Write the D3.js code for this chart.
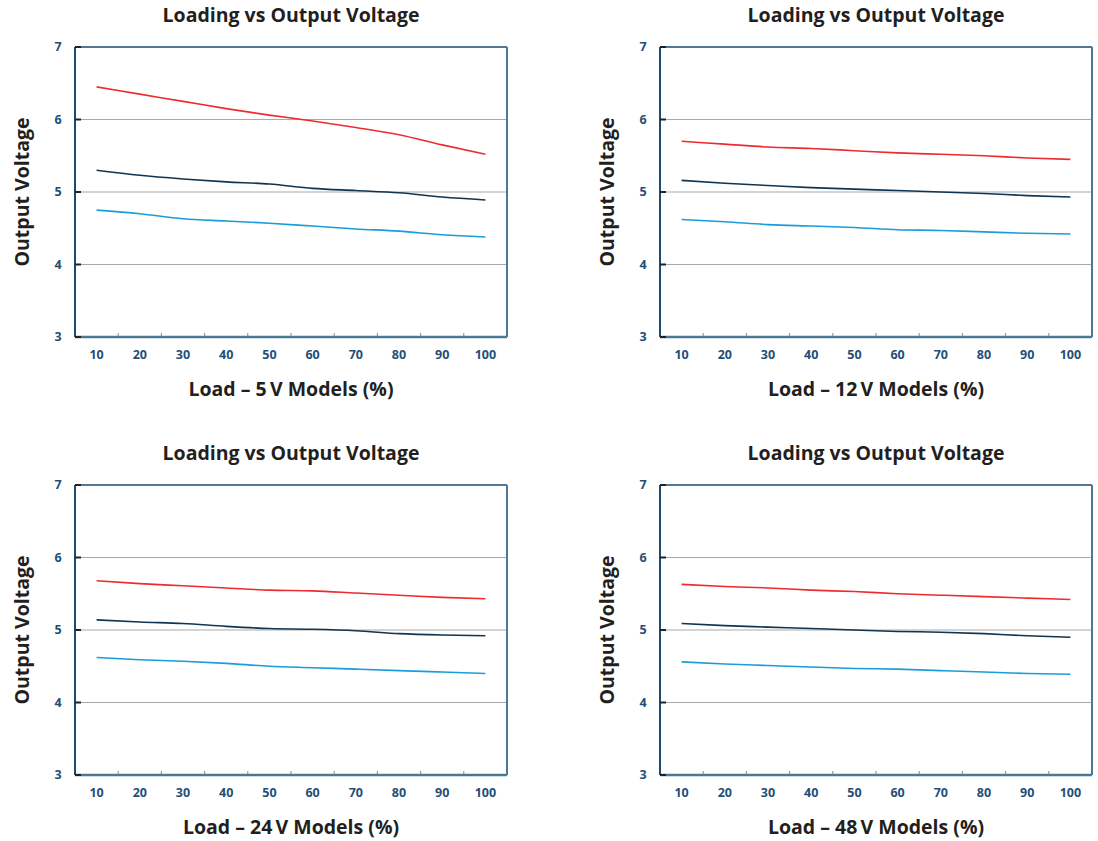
<!DOCTYPE html>
<html>
<head>
<meta charset="utf-8">
<script src="https://cdn.jsdelivr.net/npm/d3@7"></script>
<style>
  body { margin: 0; background: #fff; }
  svg text { font-family: "Open Sans", "Noto Sans", sans-serif; font-weight: 700; }
</style>
</head>
<body>
<div id="chart"></div>
<script>
var width = 1098, height = 841;

// x categories (load %)
var loads = [10, 20, 30, 40, 50, 60, 70, 80, 90, 100];
var yTicks = [3, 4, 5, 6, 7];
var chartTitle = "Loading vs Output Voltage";
var yTitle = "Output Voltage";
var xTitles = ["Load \u2013 5\u2009V Models (%)", "Load \u2013 12\u2009V Models (%)",
               "Load \u2013 24\u2009V Models (%)", "Load \u2013 48\u2009V Models (%)"];

// 5 V models
var high5 = [6.45, 6.35, 6.25, 6.15, 6.06, 5.98, 5.89, 5.79, 5.65, 5.52];
var nom5  = [5.30, 5.23, 5.18, 5.14, 5.11, 5.05, 5.02, 4.99, 4.93, 4.89];
var low5  = [4.75, 4.70, 4.63, 4.60, 4.57, 4.53, 4.49, 4.46, 4.41, 4.38];
// 12 V models
var high12 = [5.70, 5.66, 5.62, 5.60, 5.57, 5.54, 5.52, 5.50, 5.47, 5.45];
var nom12  = [5.16, 5.12, 5.09, 5.06, 5.04, 5.02, 5.00, 4.98, 4.95, 4.93];
var low12  = [4.62, 4.59, 4.55, 4.53, 4.51, 4.48, 4.47, 4.45, 4.43, 4.42];
// 24 V models
var high24 = [5.68, 5.64, 5.61, 5.58, 5.55, 5.54, 5.51, 5.48, 5.45, 5.43];
var nom24  = [5.14, 5.11, 5.09, 5.05, 5.02, 5.01, 4.99, 4.95, 4.93, 4.92];
var low24  = [4.62, 4.59, 4.57, 4.54, 4.50, 4.48, 4.46, 4.44, 4.42, 4.40];
// 48 V models
var high48 = [5.63, 5.60, 5.58, 5.55, 5.53, 5.50, 5.48, 5.46, 5.44, 5.42];
var nom48  = [5.09, 5.06, 5.04, 5.02, 5.00, 4.98, 4.97, 4.95, 4.92, 4.90];
var low48  = [4.56, 4.53, 4.51, 4.49, 4.47, 4.46, 4.44, 4.42, 4.40, 4.39];

var lineColors = ["#ee2b2f", "#0f3552", "#1a9ddb"];

var panels = [
    {x: 75,  y: 47,  xTitle: xTitles[0], series: [high5, nom5, low5]},
    {x: 660, y: 47,  xTitle: xTitles[1], series: [high12, nom12, low12]},
    {x: 75,  y: 485, xTitle: xTitles[2], series: [high24, nom24, low24]},
    {x: 660, y: 485, xTitle: xTitles[3], series: [high48, nom48, low48]}
];

var pw = 432, ph = 290;

var svg = d3.select("#chart").append("svg")
    .attr("width", width)
    .attr("height", height);

var x = d3.scaleBand().domain(loads).range([0, pw]);
var y = d3.scaleLinear().domain([3, 7]).range([ph, 0]);

function drawPanel (p) {
    var g = svg.append("g").attr("transform", "translate(" + p.x + "," + p.y + ")");

    // gridlines
    g.selectAll("line.grid")
        .data(yTicks.slice(1, -1)).enter()
        .append("line")
        .attr("x1", 0).attr("x2", pw)
        .attr("y1", function (d) { return y(d); })
        .attr("y2", function (d) { return y(d); })
        .attr("stroke", "#a9a9a9")
        .attr("stroke-width", 1);

    // inner x tick marks at band boundaries
    g.selectAll("line.xtick")
        .data(loads.slice(1)).enter()
        .append("line")
        .attr("x1", function (d) { return x(d); })
        .attr("x2", function (d) { return x(d); })
        .attr("y1", ph).attr("y2", ph - 4)
        .attr("stroke", "#8a8a8a")
        .attr("stroke-width", 1);

    // frame
    g.append("line").attr("x1", 0).attr("x2", pw).attr("y1", 0).attr("y2", 0)
        .attr("stroke", "#1d4a6d").attr("stroke-width", 1.5);
    g.append("line").attr("x1", pw).attr("x2", pw).attr("y1", 0).attr("y2", ph)
        .attr("stroke", "#4b7895").attr("stroke-width", 2);
    g.append("line").attr("x1", 0).attr("x2", pw).attr("y1", ph).attr("y2", ph)
        .attr("stroke", "#4b7895").attr("stroke-width", 2.5);
    g.append("line").attr("x1", 0).attr("x2", 0).attr("y1", 0).attr("y2", ph)
        .attr("stroke", "#1d4a6d").attr("stroke-width", 2);

    // y ticks (short dark marks inside)
    g.selectAll("line.ytick")
        .data(yTicks).enter()
        .append("line")
        .attr("x1", 0).attr("x2", 6)
        .attr("y1", function (d) { return y(d); })
        .attr("y2", function (d) { return y(d); })
        .attr("stroke", "#222")
        .attr("stroke-width", 2);

    // tick labels
    g.selectAll("text.ylab")
        .data(yTicks).enter()
        .append("text")
        .attr("x", -17)
        .attr("y", function (d) { return y(d); })
        .attr("dy", "0.35em")
        .attr("text-anchor", "middle")
        .attr("font-size", "12.5px")
        .attr("fill", "#1f4f78")
        .text(function (d) { return d; });

    g.selectAll("text.xlab")
        .data(loads).enter()
        .append("text")
        .attr("x", function (d) { return x(d) + x.bandwidth() / 2; })
        .attr("y", ph + 18)
        .attr("dy", "0.35em")
        .attr("text-anchor", "middle")
        .attr("font-size", "12.5px")
        .attr("fill", "#1f4f78")
        .text(function (d) { return d; });

    // series
    var line = d3.line()
        .x(function (d, i) { return x(loads[i]) + x.bandwidth() / 2; })
        .y(function (d) { return y(d); })
        .curve(d3.curveMonotoneX);

    g.selectAll("path.series")
        .data(p.series).enter()
        .append("path")
        .attr("d", line)
        .attr("fill", "none")
        .attr("stroke", function (d, i) { return lineColors[i]; })
        .attr("stroke-width", 1.6);

    // titles
    g.append("text")
        .attr("x", pw / 2)
        .attr("y", -32)
        .attr("dy", "0.35em")
        .attr("text-anchor", "middle")
        .attr("font-size", "19.5px")
        .attr("fill", "#231f20")
        .text(chartTitle);

    g.append("text")
        .attr("x", pw / 2)
        .attr("y", ph + 52)
        .attr("dy", "0.35em")
        .attr("text-anchor", "middle")
        .attr("font-size", "19.5px")
        .attr("fill", "#231f20")
        .text(p.xTitle);

    g.append("text")
        .attr("transform", "translate(-53," + (ph / 2) + ") rotate(-90)")
        .attr("dy", "0.35em")
        .attr("text-anchor", "middle")
        .attr("font-size", "19.5px")
        .attr("fill", "#231f20")
        .text(yTitle);
}

panels.forEach(drawPanel);
</script>
</body>
</html>
